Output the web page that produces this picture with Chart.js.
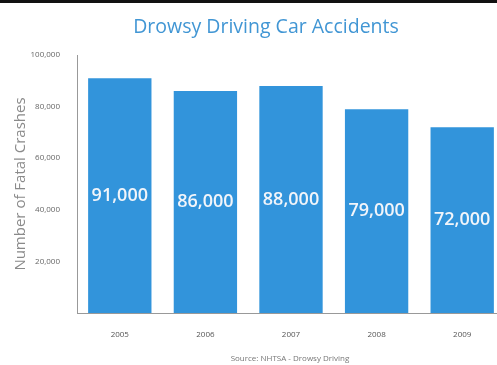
<!DOCTYPE html>
<html>
<head>
<meta charset="utf-8">
<script src="https://cdn.jsdelivr.net/npm/chart.js@4.4.1/dist/chart.umd.min.js"></script>
<style>
  html, body { margin: 0; padding: 0; background: #fff; overflow: hidden; }
  #wrap { width: 497px; height: 365px; overflow: hidden; }
</style>
</head>
<body>
<div id="wrap"><canvas id="myChart" width="505" height="365"></canvas></div>
<script>
// chart data
var years = ["2005", "2006", "2007", "2008", "2009"];
var crashes = [91000, 86000, 88000, 79000, 72000];
var yTicks = [0, 20000, 40000, 60000, 80000, 100000];

var titleText = "Drowsy Driving Car Accidents";
var sourceText = "Source: NHTSA - Drowsy Driving";

function fmt(n) {
  return n.toString().replace(/\B(?=(\d{3})+(?!\d))/g, ",");
}

// draws the top rule, title, source and the value labels in the bars
var extras = {
  id: 'extras',
  afterDraw: function(chart) {
    var c = chart.ctx;
    c.save();
    c.fillStyle = '#111';
    c.fillRect(0, 0, chart.width, 3);

    c.fillStyle = '#4196d4';
    c.font = '19.5px "Open Sans"';
    c.textAlign = 'center';
    c.textBaseline = 'middle';
    c.fillText(titleText, 266, 27);

    c.fillStyle = '#777';
    c.font = '8px "Open Sans"';
    c.fillText(sourceText, 290, 359);

    var meta = chart.getDatasetMeta(0);
    c.fillStyle = '#f2f5fa';
    c.font = '600 18px "Open Sans"';
    meta.data.forEach(function(bar, i) {
      c.fillText(fmt(crashes[i]), bar.x, (bar.y + bar.base) / 2);
    });
    c.restore();
  }
};

var ctx = document.getElementById('myChart').getContext('2d');
var chart = new Chart(ctx, {
  type: 'bar',
  data: {
    labels: years,
    datasets: [{
      label: "Fatal crashes",
      data: crashes,
      backgroundColor: '#3294db',
      barPercentage: 0.74,
      categoryPercentage: 1.0
    }]
  },
  options: {
    responsive: false,
    animation: false,
    layout: { padding: { top: 55, left: 0, right: 0, bottom: 0 } },
    plugins: {
      legend: { display: false },
      tooltip: { enabled: false }
    },
    scales: {
      x: {
        grid: { display: false },
        border: { display: true, color: '#999', width: 1 },
        ticks: { color: '#555', font: { family: 'Open Sans', size: 8 }, padding: 9, maxRotation: 0 },
        afterFit: function(s) { s.height = 52; }
      },
      y: {
        min: yTicks[0],
        max: yTicks[yTicks.length - 1],
        afterBuildTicks: function(s) { s.ticks = yTicks.map(function(v) { return { value: v }; }); },
        grid: { display: false },
        border: { display: true, color: '#999', width: 1 },
        ticks: {
          color: '#666',
          font: { family: 'Open Sans', size: 8 },
          padding: 9,
          callback: function(v) { return v === 0 ? '' : fmt(v); }
        },
        title: {
          display: true,
          text: 'Number of Fatal Crashes',
          color: '#8a8a8a',
          font: { family: 'Open Sans', size: 15 },
          padding: { top: 12, bottom: 0 }
        },
        afterFit: function(s) { s.width = 77; }
      }
    }
  },
  plugins: [extras]
});
</script>
</body>
</html>
